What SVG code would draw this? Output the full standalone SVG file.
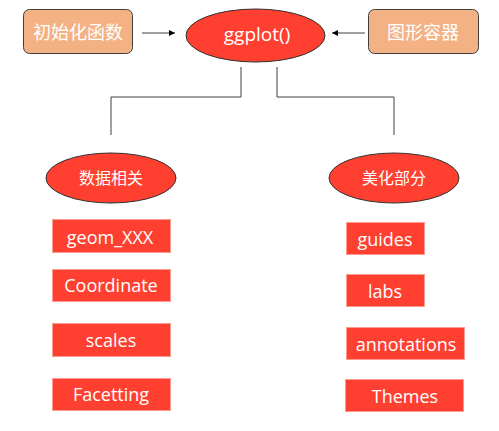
<svg xmlns="http://www.w3.org/2000/svg" width="499" height="431" viewBox="0 0 499 431">
<defs>
<style>
.src{fill:#F4B183;stroke:#404040;stroke-width:1}
.ell{fill:#FF4030;stroke:#303030;stroke-width:1}
.box{fill:#FF4030;stroke:#FF9A90;stroke-width:1}
.t{fill:#ffffff;font-family:"Open Sans","Noto Sans CJK SC",sans-serif;text-anchor:middle;dominant-baseline:central}
.l{font-size:18px}
.conn{fill:none;stroke:#404040;stroke-width:1}
</style>
<marker id="ah" viewBox="0 0 10 10" refX="10" refY="5" markerWidth="6" markerHeight="6" orient="auto" markerUnits="userSpaceOnUse">
<path d="M0,0 L10,5 L0,10 z" fill="#000"/>
</marker>
</defs>
<rect width="499" height="431" fill="#ffffff"/>
<g id="connectors">
<line class="conn" x1="142" y1="33" x2="175" y2="33" stroke="#000" marker-end="url(#ah)"/>
<line class="conn" x1="365" y1="33" x2="332" y2="33" stroke="#000" marker-end="url(#ah)"/>
<polyline class="conn" points="241,67 241,97 111,97 111,135"/>
<polyline class="conn" points="277,67 277,97 394,97 394,135"/>
</g>
<g id="init">
<rect class="src" x="23.5" y="9.5" width="109" height="44" rx="6"/>
<text class="t" x="78" y="32" font-size="18">初始化函数</text>
</g>
<g id="ggplot">
<ellipse class="ell" cx="255.5" cy="35.5" rx="69.5" ry="26.5"/>
<text class="t" x="257" y="34" font-size="19">ggplot()</text>
</g>
<g id="container">
<rect class="src" x="368.5" y="9.5" width="110" height="44" rx="6"/>
<text class="t" x="423" y="32" font-size="18">图形容器</text>
</g>
<g id="data">
<ellipse class="ell" cx="111" cy="178" rx="65" ry="25"/>
<text class="t" x="111" y="178" font-size="16">数据相关</text>
</g>
<g id="beauty">
<ellipse class="ell" cx="394" cy="178" rx="65" ry="25"/>
<text class="t" x="394" y="178" font-size="16">美化部分</text>
</g>
<g id="geom">
<rect class="box" x="52.5" y="219.5" width="118" height="33"/>
<text class="t l" x="110" y="237" font-size="19">geom_XXX</text>
</g>
<g id="coordinate">
<rect class="box" x="52.5" y="269.5" width="118" height="32"/>
<text class="t l" x="111" y="285">Coordinate</text>
</g>
<g id="scales">
<rect class="box" x="52.5" y="323.5" width="118" height="33"/>
<text class="t l" x="111" y="340">scales</text>
</g>
<g id="facetting">
<rect class="box" x="52.5" y="378.5" width="118" height="32"/>
<text class="t l" x="111" y="394">Facetting</text>
</g>
<g id="guides">
<rect class="box" x="346.5" y="222.5" width="78" height="32"/>
<text class="t l" x="385" y="239">guides</text>
</g>
<g id="labs">
<rect class="box" x="346.5" y="274.5" width="78" height="32"/>
<text class="t l" x="385" y="291">labs</text>
</g>
<g id="annotations">
<rect class="box" x="346.5" y="327.5" width="118" height="32"/>
<text class="t l" x="406" y="344">annotations</text>
</g>
<g id="themes">
<rect class="box" x="345.5" y="379.5" width="118" height="32"/>
<text class="t l" x="405" y="396">Themes</text>
</g>
</svg>
